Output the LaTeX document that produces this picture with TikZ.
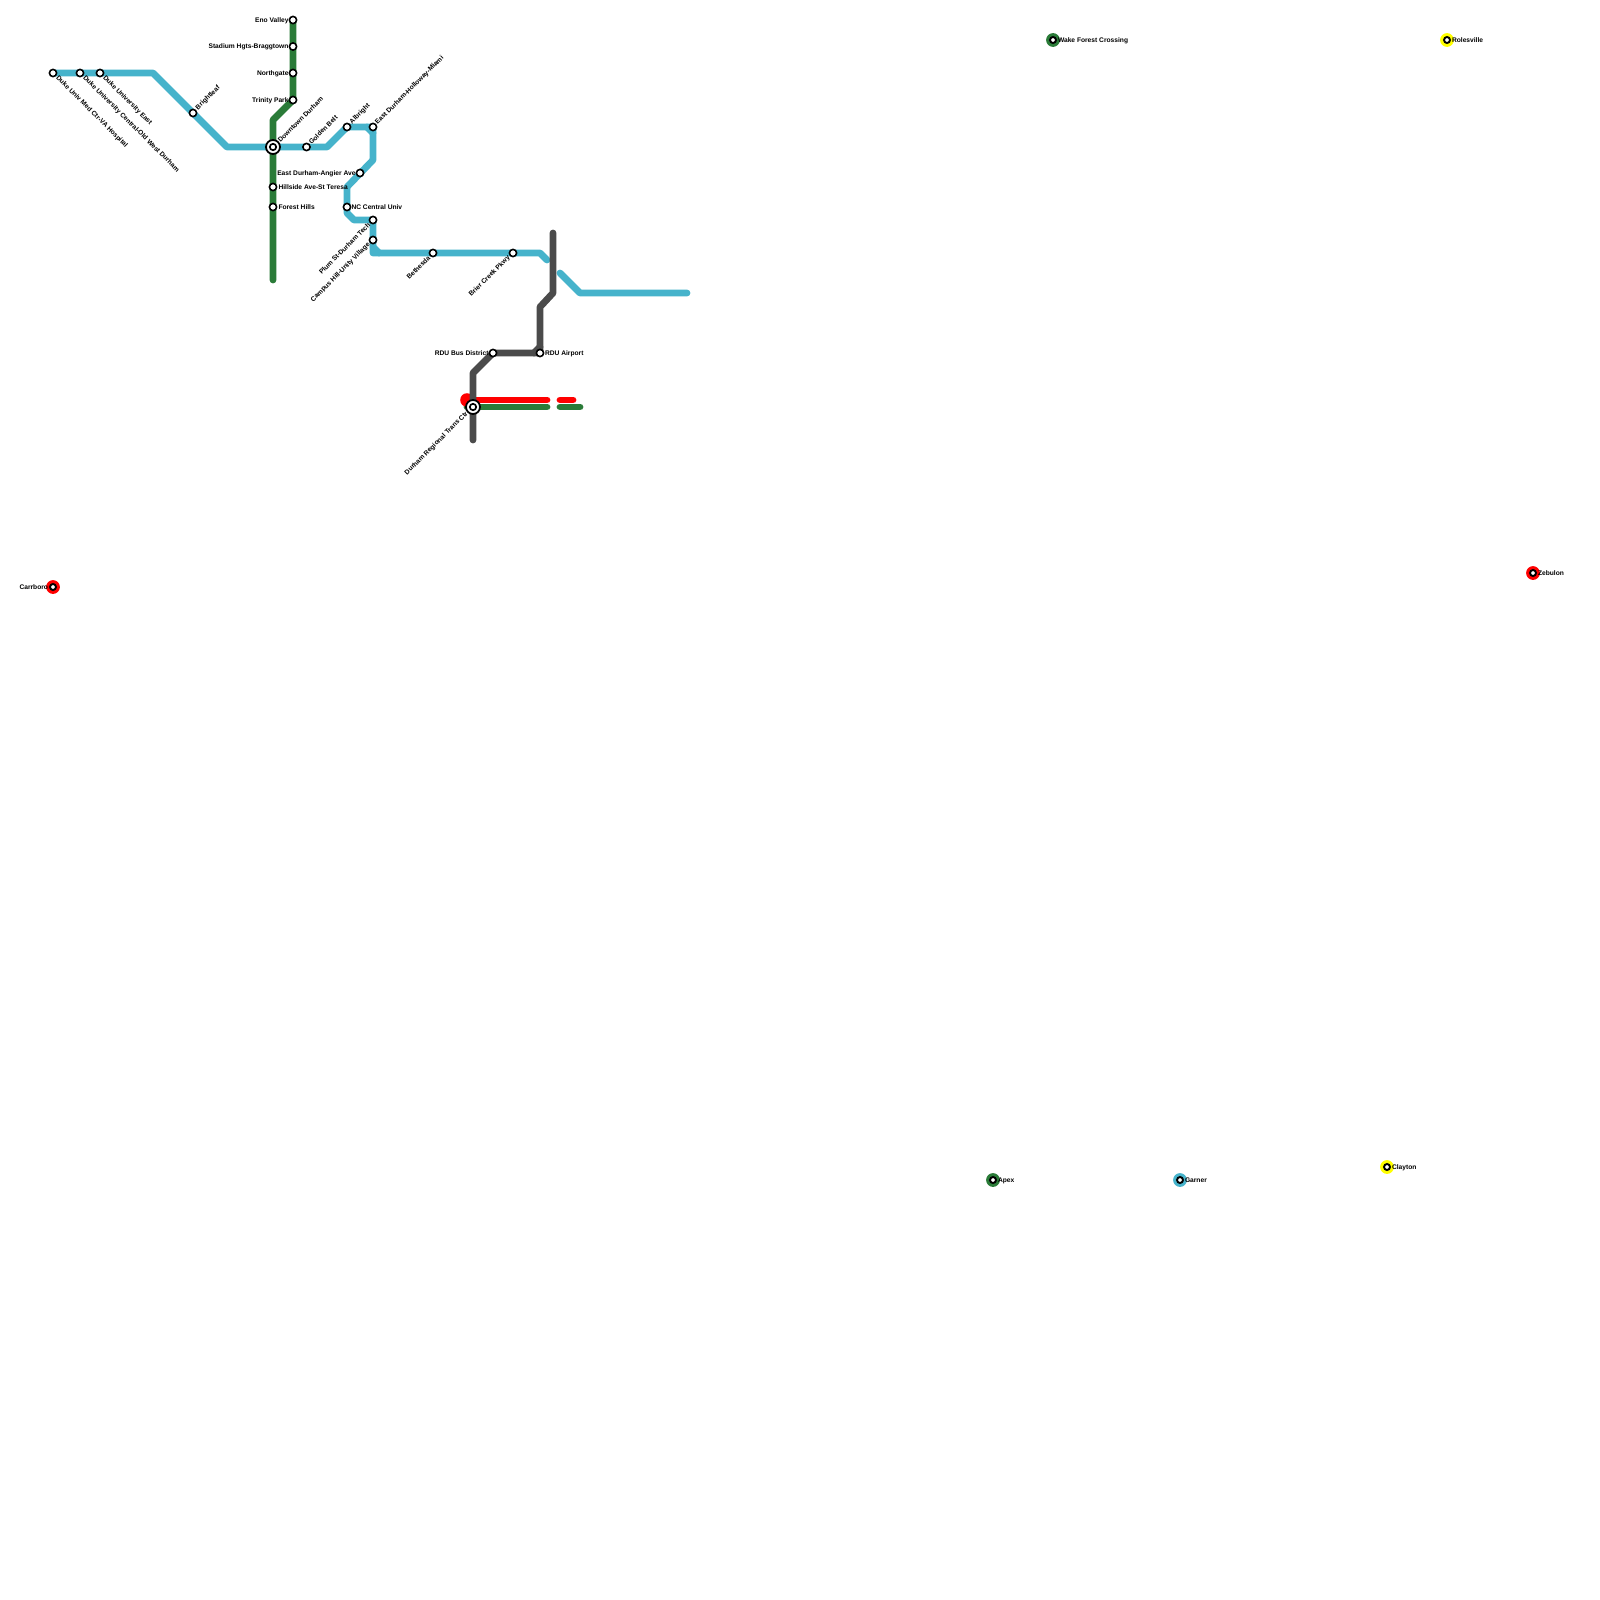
\documentclass[tikz,border=0pt]{standalone}
\usepackage{fontspec}
\setmainfont{Liberation Sans}
\definecolor{cblue}{HTML}{46B3CB}
\definecolor{cgreen}{HTML}{2A7B38}
\definecolor{cred}{HTML}{FF0000}
\definecolor{cgray}{HTML}{4B4B4B}
\definecolor{cyel}{HTML}{FFFF00}
\tikzset{
  x=0.5pt,y=-0.5pt,
  metro/.style={line width=3.4pt,line join=round,line cap=round},
  st/.style={circle,draw=black,fill=white,line width=0.8pt,minimum size=3.6pt,inner sep=0pt,outer sep=0pt},
  lab/.style={font=\bfseries\fontsize{3.33}{4}\selectfont,inner sep=0pt,outer sep=0pt,text=black},
  R/.style={lab,anchor=west,yshift=-0.3pt},
  L/.style={lab,anchor=east,yshift=-0.3pt},
  NE/.style={lab,anchor=west,rotate=45},
  SE/.style={lab,anchor=west,rotate=-45},
  SW/.style={lab,anchor=east,rotate=45}
}
\newcommand{\hubdot}[2]{\node[circle,draw=black,fill=white,line width=0.9pt,minimum size=7pt,inner sep=0pt] (#1) at (#2) {};\node[circle,draw=black,fill=white,line width=0.85pt,minimum size=3.2pt,inner sep=0pt] (#1c) at (#2) {};}
\newcommand{\ringst}[3]{\node[circle,fill=#1,minimum size=6.9pt,inner sep=0pt] (#2r) at (#3) {};\node[circle,draw=black,fill=white,line width=0.95pt,minimum size=3pt,inner sep=0pt] (#2) at (#3) {};}
\begin{document}
\begin{tikzpicture}
\useasboundingbox (0,0) rectangle (1600,1600);
\fill[white] (0,0) rectangle (1600,1600);
% coordinates
\coordinate (eno) at (293,20);
\coordinate (stad) at (293,46.5);
\coordinate (north) at (293,73);
\coordinate (trin) at (293,100);
\coordinate (gb1) at (273,120);
\coordinate (gend) at (273,280);
\coordinate (down) at (273,147);
\coordinate (hill) at (273,187);
\coordinate (forest) at (273,207);
\coordinate (dmed) at (53,73);
\coordinate (dcen) at (80,73);
\coordinate (deast) at (100,73);
\coordinate (b1) at (153,73);
\coordinate (bright) at (193,113);
\coordinate (b2) at (227,147);
\coordinate (golden) at (306.5,147);
\coordinate (b3) at (327,147);
\coordinate (alb) at (347,127);
\coordinate (b4a) at (367,127);
\coordinate (b4b) at (373,133);
\coordinate (edh) at (373,127);
\coordinate (b5) at (373,160);
\coordinate (ang) at (360,173);
\coordinate (b6) at (347,187);
\coordinate (nccu) at (347,207);
\coordinate (b7a) at (347,213);
\coordinate (b7) at (354,220);
\coordinate (plum) at (373,220);
\coordinate (camp) at (373,240);
\coordinate (b8a) at (373,247);
\coordinate (b8b) at (379,253);
\coordinate (b8) at (373,253);
\coordinate (beth) at (433,253);
\coordinate (brier) at (513,253);
\coordinate (b9) at (540,253);
\coordinate (b10) at (547,260);
\coordinate (b11) at (560,273);
\coordinate (b12) at (580,293);
\coordinate (b13) at (687,293);
\coordinate (g1) at (553,233);
\coordinate (g2) at (553,293);
\coordinate (g3) at (540,307);
\coordinate (rdu) at (540,353);
\coordinate (g3b) at (540,347);
\coordinate (g3c) at (534,353);
\coordinate (bus) at (493,353);
\coordinate (g4) at (473,373);
\coordinate (dur) at (473,407);
\coordinate (g5) at (473,440);
\coordinate (r0) at (467,400);
\coordinate (r1) at (547,400);
\coordinate (r2) at (560,400);
\coordinate (r3) at (573,400);
\coordinate (e0) at (467,407);
\coordinate (e1) at (547,407);
\coordinate (e2) at (560,407);
\coordinate (e3) at (580,407);
% lines
\draw[metro,cblue] (dmed)--(b1)--(b2)--(b3)--(alb)--(edh)--(b5)--(b6)--(nccu)--(b7a)--(b7)--(plum)--(b8)--(b9)--(b10);
\draw[metro,cblue] (b4a)--(b4b);
\draw[metro,cblue] (b8a)--(b8b);
\draw[metro,cblue] (b11)--(b12)--(b13);
\draw[metro,cgreen] (eno)--(trin)--(gb1)--(gend);
\draw[metro,cgreen] (e0)--(e1);
\draw[metro,cgreen] (e2)--(e3);
\fill[cred] (r0) circle (3.4pt);
\draw[metro,cred] (r0)--(r1);
\draw[metro,cred] (r2)--(r3);
\draw[metro,cgray] (g1)--(g2)--(g3)--(rdu);
\draw[metro,cgray] (g3b)--(g3c);
\draw[metro,cgray] (rdu)--(bus)--(g4)--(g5);
% stations
\foreach \n in {eno,stad,north,trin,hill,forest,dmed,dcen,deast,bright,golden,alb,edh,ang,nccu,plum,camp,beth,brier,rdu,bus}
  \node[st] (s\n) at (\n) {};
\hubdot{sdown}{down}
\hubdot{sdur}{dur}
\ringst{cred}{scarr}{53,587}
\ringst{cgreen}{swake}{1053,40}
\ringst{cyel}{srole}{1447,40}
\ringst{cred}{szeb}{1533,573}
\ringst{cgreen}{sapex}{993,1180}
\ringst{cblue}{sgarn}{1180,1180}
\ringst{cyel}{sclay}{1387,1167}
% labels
\node[L] (l1) at (288.5,20) {Eno Valley};
\node[L] (l2) at (288.5,46.5) {Stadium Hgts-Braggtown};
\node[L] (l3) at (288.5,73) {Northgate};
\node[L] (l4) at (288.5,100) {Trinity Park};
\node[R] (l5) at (278.5,187) {Hillside Ave-St Teresa};
\node[R] (l6) at (278.5,207) {Forest Hills};
\node[L] (l7) at (355.5,173) {East Durham-Angier Ave};
\node[R] (l8) at (351.5,207) {NC Central Univ};
\node[R] (l9) at (545,353) {RDU Airport};
\node[L] (l10) at (488.5,353) {RDU Bus District};
\node[SE] (l11) at (57,77) {Duke Univ Med Ctr-VA Hospital};
\node[SE] (l12) at (84,77) {Duke University Central-Old West Durham};
\node[SE] (l13) at (104,77) {Duke University East};
\node[NE] (l14) at (197,109) {Brightleaf};
\node[NE] (l15) at (279,141) {Downtown Durham};
\node[NE] (l16) at (310,143) {Golden Belt};
\node[NE] (l17) at (351,123) {Albright};
\node[NE] (l18) at (376.5,123.5) {East Durham-Holloway-Miami};
\node[SW] (l19) at (369,224) {Plum St-Durham Tech};
\node[SW] (l20) at (369,244) {Campus Hill-Unity Village};
\node[SW] (l21) at (429,257) {Bethesda};
\node[SW] (l22) at (509,257) {Brier Creek Pkwy};
\node[SW] (l23) at (467,413) {Durham Regional Trans Ctr};
\node[L] (l24) at (48,587) {Carrboro};
\node[R] (l25) at (1058,40) {Wake Forest Crossing};
\node[R] (l26) at (1452,40) {Rolesville};
\node[R] (l27) at (1538,573) {Zebulon};
\node[R] (l28) at (998,1180) {Apex};
\node[R] (l29) at (1185,1180) {Garner};
\node[R] (l30) at (1392,1167) {Clayton};
\end{tikzpicture}
\end{document}
